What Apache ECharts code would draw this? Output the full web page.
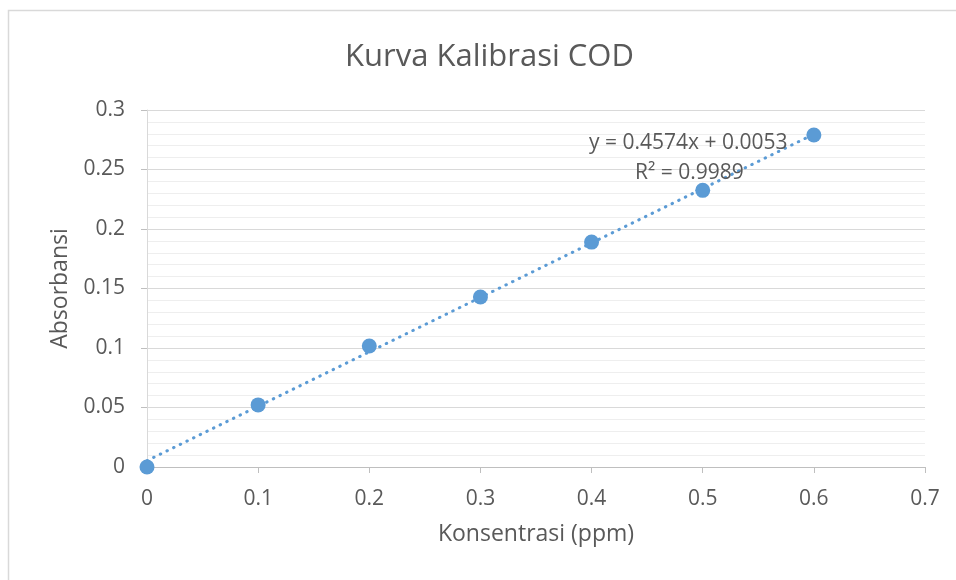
<!DOCTYPE html>
<html>
<head>
<meta charset="utf-8">
<script src="https://cdn.jsdelivr.net/npm/echarts@6/dist/echarts.min.js"></script>
<style>
  html, body { margin: 0; padding: 0; background: #fff; }
  #main { width: 956px; height: 580px; }
</style>
</head>
<body>
<div id="main"></div>
<script>
// data
var konsentrasi = [0, 0.1, 0.2, 0.3, 0.4, 0.5, 0.6];
var absorbansi = [0, 0.0522, 0.1017, 0.1429, 0.189, 0.2325, 0.279];
// linear trendline end points (y = 0.4574x + 0.0053)
var trendX = [0, 0.6];
var trendY = [0.0053, 0.2797];
var equationText = "y = 0.4574x + 0.0053";
var r2Text = "R² = 0.9989";

var font = "'Open Sans', 'Noto Sans', sans-serif";
var chart = echarts.init(document.getElementById("main"));

var option = {
  animation: false,
  textStyle: { fontFamily: font },
  title: {
    text: "Kurva Kalibrasi COD",
    left: 340,
    top: 37,
    textStyle: { fontSize: 31, fontWeight: "normal", color: "#595959", fontFamily: font }
  },
  grid: { left: 147, right: 31, top: 110, bottom: 113 },
  xAxis: {
    type: "value",
    min: 0,
    max: 0.7,
    interval: 0.1,
    name: "Konsentrasi (ppm)",
    nameLocation: "middle",
    nameGap: 56,
    nameTextStyle: { fontSize: 23, color: "#595959" },
    axisLine: { show: true, lineStyle: { color: "#bfbfbf", width: 1 } },
    axisTick: { show: true, length: 6, lineStyle: { color: "#bfbfbf" } },
    axisLabel: { fontSize: 21, color: "#595959", margin: 22 },
    splitLine: { show: false }
  },
  yAxis: {
    type: "value",
    min: 0,
    max: 0.3,
    interval: 0.05,
    name: "Absorbansi",
    nameLocation: "middle",
    nameGap: 75,
    nameTextStyle: { fontSize: 23, color: "#595959" },
    axisLine: { show: true, lineStyle: { color: "#d9d9d9", width: 1 } },
    axisTick: { show: true, length: 6, lineStyle: { color: "#bfbfbf" } },
    axisLabel: { fontSize: 21, color: "#595959", margin: 22 },
    splitLine: { show: true, lineStyle: { color: "#d9d9d9", width: 1 } },
    minorTick: { show: false, splitNumber: 5 },
    minorSplitLine: { show: true, lineStyle: { color: "#eeeeee", width: 1 } }
  },
  series: [
    {
      name: "Trendline",
      type: "line",
      data: trendX.map(function (x, i) { return [x, trendY[i]]; }),
      symbol: "none",
      lineStyle: { color: "#5b9bd5", width: 3, type: [0.5, 6.9], cap: "round" },
      z: 2
    },
    {
      name: "Absorbansi",
      type: "scatter",
      data: konsentrasi.map(function (x, i) { return [x, absorbansi[i]]; }),
      symbolSize: 15,
      itemStyle: { color: "#5b9bd5", opacity: 1 },
      z: 3
    }
  ],
  graphic: [
    {
      type: "rect",
      shape: { x: 8.5, y: 10.5, width: 1000, height: 1000 },
      style: { fill: null, stroke: "#d9d9d9", lineWidth: 1.5 },
      silent: true
    },
    {
      type: "text",
      left: 589,
      top: 133,
      style: { text: equationText, font: "21px " + font, fill: "#595959" },
      z: 10
    },
    {
      type: "text",
      left: 635,
      top: 163,
      style: { text: r2Text, font: "21px " + font, fill: "#595959" },
      z: 10
    }
  ]
};

option && chart.setOption(option);
</script>
</body>
</html>
